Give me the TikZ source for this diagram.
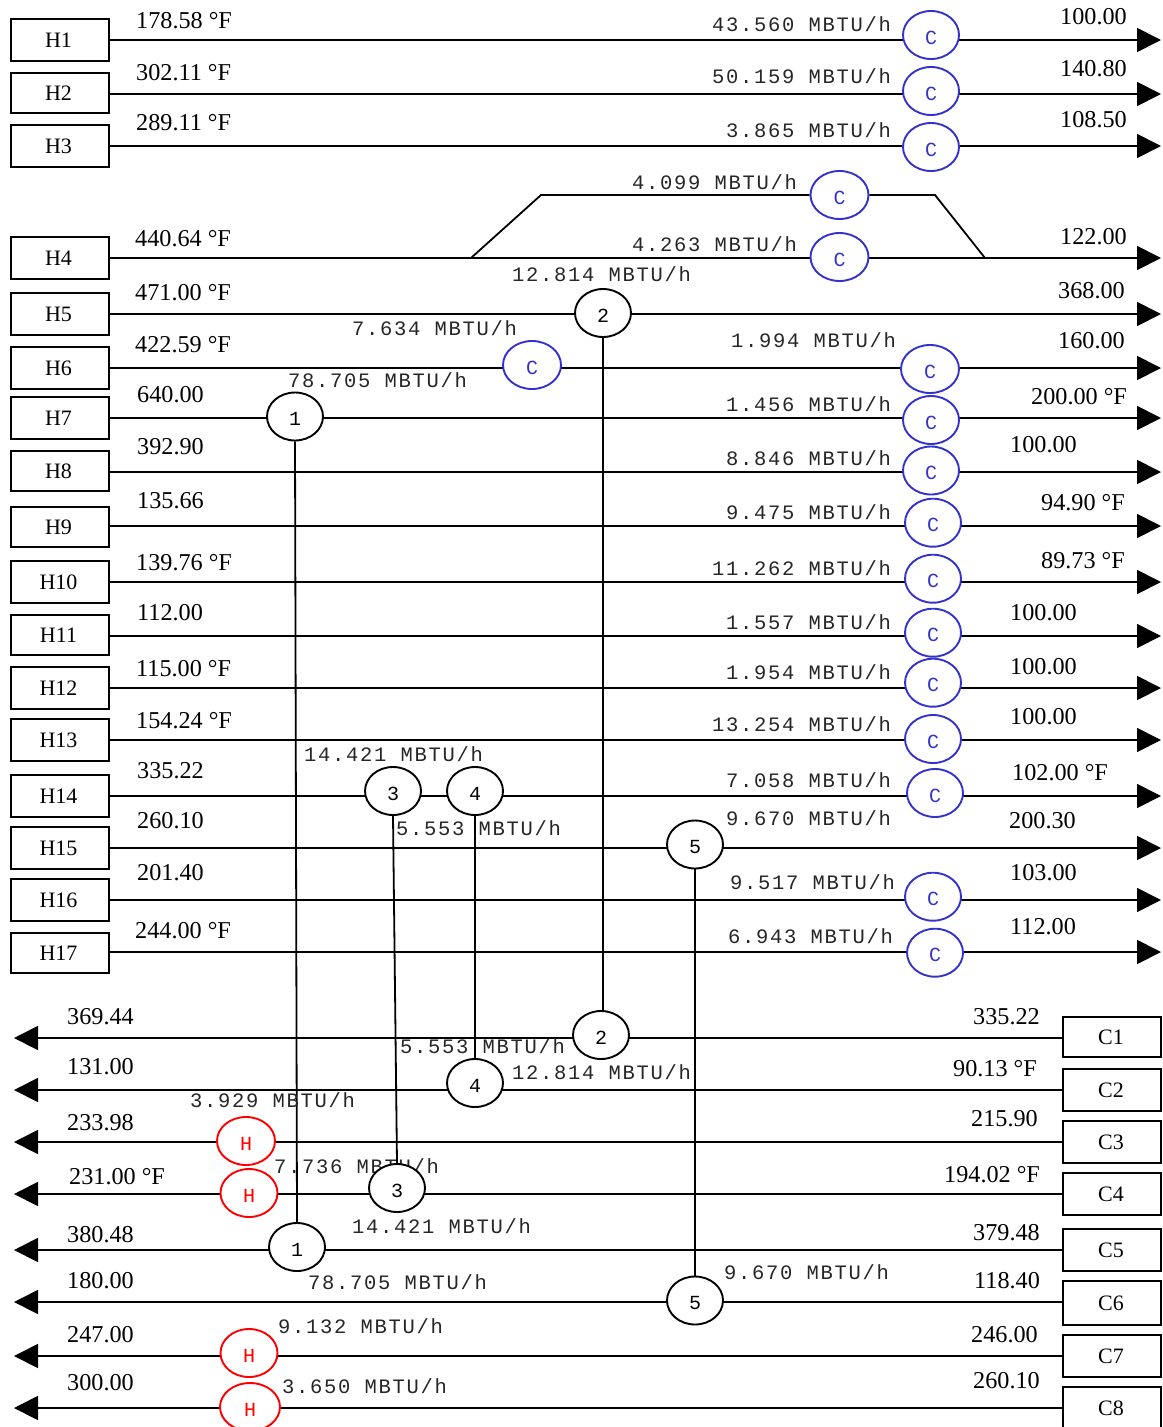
\documentclass[tikz,border=0pt]{standalone}
\usepackage{fontspec}
\setmainfont{Liberation Serif}
\newfontfamily\dutyfont[LetterSpace=8.3]{Liberation Mono}
\newfontfamily\markfont{Liberation Mono}
\usetikzlibrary{arrows.meta,backgrounds,shapes.geometric}
\definecolor{ink}{HTML}{000000}
\definecolor{coolblue}{HTML}{3333CC}
\definecolor{heatred}{HTML}{FF0000}
\tikzset{
  streambox/.style={draw=ink,line width=1.8pt,fill=white,minimum width=98pt,minimum height=42pt,
    inner sep=0pt,text depth=0pt,text height=14pt,font=\fontsize{22}{24}\selectfont},
  unit/.style={draw,ellipse,line width=1.9pt,fill=white,minimum width=56pt,minimum height=48pt,inner sep=0pt,
    text height=18pt,text depth=0pt,font=\markfont\fontsize{20}{22}\selectfont},
  hx/.style={unit,draw=ink,text=ink},
  cooler/.style={unit,draw=coolblue,text=coolblue},
  heater/.style={unit,draw=heatred,text=heatred},
  temp/.style={anchor=base west,inner sep=0pt,yshift=1pt,text=ink,font=\fontsize{24.2}{26}\selectfont},
  duty/.style={anchor=base west,inner sep=0pt,text=ink!85,font=\dutyfont\fontsize{20.5}{22}\selectfont},
  stream/.style={draw=ink,line width=1.8pt},
  arr/.style={stream,-{Triangle[length=24pt,width=24pt]}},
  link/.style={draw=ink,line width=1.8pt},
}
\begin{document}
\begin{tikzpicture}[x=1pt,y=-1pt]
  \useasboundingbox (0,0) rectangle (1162,1427);
  % temperatures
  \foreach \tx/\ty/\tval [count=\i] in {136/29/178.58 °F,136/81/302.11 °F,136/131/289.11 °F,135/247/440.64 °F,135/301/471.00 °F,
      135/353/422.59 °F,137/403/640.00,137/455/392.90,137/509/135.66,136/571/139.76 °F,137/621/112.00,136/677/115.00 °F,
      136/729/154.24 °F,137/779/335.22,137/829/260.10,137/881/201.40,135/939/244.00 °F,
      1060/25/100.00,1060/77/140.80,1060/128/108.50,1060/245/122.00,1058/299/368.00,1058/349/160.00,1031/405/200.00 °F,
      1010/453/100.00,1041/511/94.90 °F,1041/569/89.73 °F,1010/621/100.00,1010/675/100.00,1010/725/100.00,1012/781/102.00 °F,
      1009/829/200.30,1010/881/103.00,1010/935/112.00,
      67/1025/369.44,67/1075/131.00,67/1131/233.98,69/1185/231.00 °F,67/1243/380.48,67/1289/180.00,67/1343/247.00,67/1391/300.00,
      973/1025/335.22,953/1077/90.13 °F,971/1127/215.90,944/1183/194.02 °F,973/1241/379.48,974/1289/118.40,971/1343/246.00,973/1389/260.10}
    \node[temp] (temp\i) at (\tx,\ty) {\tval};
  % duties
  \foreach \tx/\ty/\tval [count=\i] in {712/31/43.560,712/83/50.159,726/137/3.865,632/189/4.099,632/251/4.263,512/281/12.814,
      352/335/7.634,731/347/1.994,288/387/78.705,726/411/1.456,726/465/8.846,726/519/9.475,712/575/11.262,726/629/1.557,
      726/679/1.954,712/731/13.254,304/761/14.421,726/787/7.058,396/835/5.553,726/825/9.670,730/889/9.517,728/943/6.943,
      400/1053/5.553,512/1079/12.814,190/1107/3.929,274/1173/7.736,352/1233/14.421,308/1289/78.705,724/1279/9.670,
      278/1333/9.132,282/1393/3.650}
    \node[duty] (duty\i) at (\tx,\ty) {\tval{} MBTU/h};
  % stream boxes
  \foreach \n/\y/\by/\bh in {H1/40/40/42,H2/94/93/40,H3/146/146/42,H4/258/258/42,H5/314/314/42,H6/368/368/42,H7/418/418/42,
      H8/472/471/40,H9/526/527/40,H10/582/582/42,H11/636/635/40,H12/688/688/42,H13/740/740/42,H14/796/796/42,H15/848/848/42,
      H16/900/900/42,H17/952/953/40} {
    \node[streambox,minimum height=\bh pt] (\n) at (60,\by) {\n\hspace*{3pt}};
    \coordinate (end\n) at (1161,\y);
  }
  \foreach \n/\y/\by/\bh in {C1/1038/1037/40,C2/1090/1090/42,C3/1142/1142/42,C4/1194/1194/42,C5/1250/1250/42,C6/1302/1303/44,
      C7/1356/1356/42,C8/1408/1408/42} {
    \node[streambox,minimum height=\bh pt] (\n) at (1112,\by) {\n\hspace*{2pt}};
    \coordinate (end\n) at (14,\y);
  }
  % coolers
  \foreach \n/\x/\y/\w in {cH1/931/35/56,cH2/931/91/56,cH3/931/147/56,cH4a/839.5/195/58,cH4b/839.5/257/58,cH6a/532/365/58,cH6b/930/369/58,
      cH7/931/420/56,cH8/931/470.5/56,cH9/933/522.7/56,cH10/933/578.7/56,cH11/933/632.7/56,cH12/933/682.7/56,cH13/933/739/56,
      cH14/935/793/56,cH16/933/896.7/56,cH17/935/952.7/56}
    \node[cooler,minimum width=\w pt] (\n) at (\x,\y) {C};
  % heaters
  \foreach \n/\x/\y/\w in {hC3/246/1141/58,hC4/249/1193/57,hC7/249/1353/57,hC8/250/1407/60}
    \node[heater,minimum width=\w pt] (\n) at (\x,\y) {H};
  % exchangers, top and bottom half
  \foreach \n/\x/\y/\m in {hxa1/295/416.5/1,hxa2/603/313/2,hxa3/393/791/3,hxa4/475/791/4,hxa5/695/844.5/5,
      hxb2/601/1035/2,hxb4/475/1083/4,hxb3/397/1188/3,hxb1/297/1247/1,hxb5/695/1300.5/5}
    \node[hx] (\n) at (\x,\y) {\m};
  \coordinate (splitH4) at (471,258);
  \coordinate (upH4) at (541,195);
  \coordinate (downH4) at (935,195);
  \coordinate (mergeH4) at (985,258);
  \begin{scope}[on background layer]
    \foreach \n/\u in {H1/cH1,H2/cH2,H3/cH3,H4/cH4b,H5/hxa2,H8/cH8,H9/cH9,H10/cH10,H11/cH11,H12/cH12,H13/cH13,H15/hxa5,H16/cH16,H17/cH17}
      \draw[arr] (end\n -| \n.east) -- (end\n -| \u) -- (end\n);
    \draw[arr] (endH6 -| H6.east) -- (endH6 -| cH6a) -- (endH6 -| cH6b) -- (endH6);
    \draw[arr] (endH7 -| H7.east) -- (endH7 -| hxa1) -- (endH7 -| cH7) -- (endH7);
    \draw[arr] (endH14 -| H14.east) -- (endH14 -| hxa3) -- (endH14 -| hxa4) -- (endH14 -| cH14) -- (endH14);
    \foreach \n/\u in {C1/hxb2,C2/hxb4,C3/hC3,C5/hxb1,C6/hxb5,C7/hC7,C8/hC8}
      \draw[arr] (end\n -| \n.west) -- (end\n -| \u) -- (end\n);
    \draw[arr] (endC4 -| C4.west) -- (endC4 -| hxb3) -- (endC4 -| hC4) -- (endC4);
    \draw[stream] (splitH4) -- (upH4) -- (upH4 -| cH4a.west);
    \draw[stream] (downH4 -| cH4a.east) -- (downH4) -- (mergeH4);
    \foreach \k in {1,3,4,5}
      \draw[link] (hxa\k.south) -- (hxb\k.north);
    \draw[link] (hxa2.south) -- (hxa2.south |- hxb2.north);
  \end{scope}
\end{tikzpicture}
\end{document}
